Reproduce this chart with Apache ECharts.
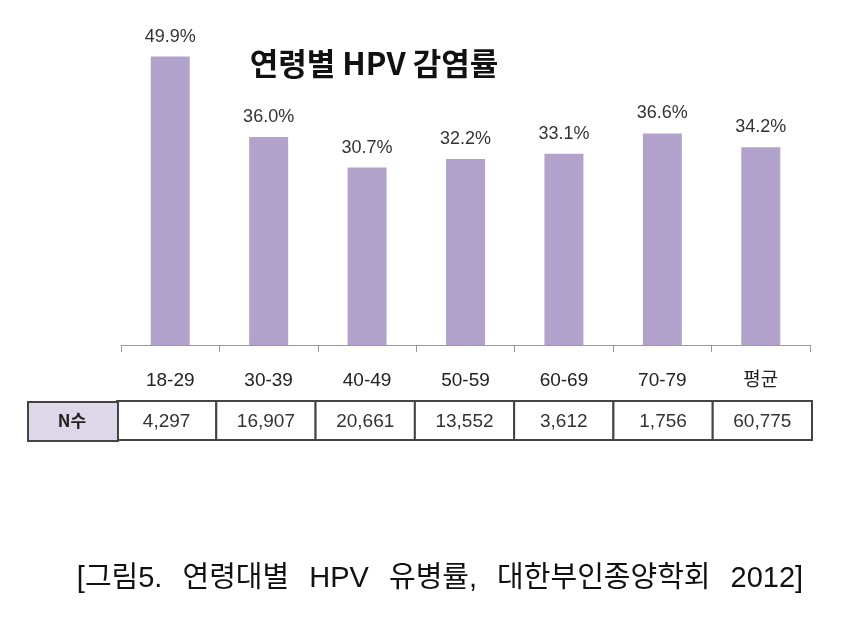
<!DOCTYPE html>
<html><head><meta charset="utf-8">
<script src="https://cdn.jsdelivr.net/npm/echarts@6/dist/echarts.min.js"></script>
<style>html,body{margin:0;padding:0;background:#fff}#c{width:850px;height:630px}</style>
</head><body><div id="c"></div>
<script>
const categories = ['18-29','30-39','40-49','50-59','60-69','70-79','평균'];
const rates = [49.9, 36.0, 30.7, 32.2, 33.1, 36.6, 34.2];
const counts = ['4,297','16,907','20,661','13,552','3,612','1,756','60,775'];
const tableHeader = 'N수';
const chartTitle = '연령별 HPV 감염률';
const caption = '[그림5. 연령대별 HPV 유병률, 대한부인종양학회 2012]';

const FONT = '"Liberation Sans", "Noto Sans CJK KR", sans-serif';
const captionRich = caption.split(' ').map(w => '{w|' + w + '}').join(' ');
const chart = echarts.init(document.getElementById('c'));
chart.setOption({
  animation: false,
  backgroundColor: '#fff',
  title: [
    {text: chartTitle, left: 369, top: 43, textAlign: 'center',
     textStyle: {fontFamily: '"Noto Sans CJK KR", sans-serif', fontSize: 31, fontWeight: 'bold', color: '#111'}},
    {text: captionRich, left: 435, top: 559, textAlign: 'center',
     textStyle: {fontFamily: FONT, fontSize: 29, fontWeight: 'normal', color: '#111',
       rich: {w: {fontFamily: FONT, fontSize: 29, fontWeight: 'normal', color: '#111', padding: [0, 6]}}}}
  ],
  grid: [
    {left: 121, right: 40, top: 56, bottom: 285},
    {left: 117, right: 38, top: 401, height: 39}
  ],
  xAxis: [
    {gridIndex: 0, type: 'category', data: categories,
     axisLine: {lineStyle: {color: '#999', width: 1}},
     axisTick: {show: true, length: 7, lineStyle: {color: '#999'}},
     axisLabel: {margin: 26, fontSize: 19, color: '#222', fontFamily: FONT}},
    {gridIndex: 1, type: 'category', data: categories, show: false}
  ],
  yAxis: [
    {gridIndex: 0, type: 'value', min: 0, max: 50, show: false, splitLine: {show: false}},
    {gridIndex: 1, type: 'value', min: 0, max: 1, show: false, splitLine: {show: false}}
  ],
  graphic: [
    {type: 'rect', left: 27, top: 401, shape: {width: 90, height: 39},
     style: {fill: '#dcd8ea', stroke: '#444', lineWidth: 2}, z: 10},
    {type: 'text', x: 72, y: 421, z: 11,
     style: {text: tableHeader, fontSize: 17, fontWeight: 'bold', fontFamily: '"Noto Sans CJK KR", sans-serif',
             fill: '#222', align: 'center', verticalAlign: 'middle'}}
  ],
  series: [
    {type: 'bar', xAxisIndex: 0, yAxisIndex: 0, data: rates, barWidth: 39,
     itemStyle: {color: '#b1a3cb'},
     label: {show: true, position: 'top', distance: 11, fontSize: 18, color: '#333', fontFamily: FONT,
             formatter: p => p.value.toFixed(1) + '%'}},
    {type: 'custom', xAxisIndex: 1, yAxisIndex: 1, data: counts.map((c, i) => [i, c]),
     renderItem: function (params, api) {
       const x = api.coord([api.value(0), 0]);
       const top = api.coord([api.value(0), 1]);
       const w = api.size([1, 0])[0];
       const h = x[1] - top[1];
       return {type: 'group', children: [
         {type: 'rect', shape: {x: x[0] - w / 2, y: top[1], width: w, height: h},
          style: {fill: '#fff', stroke: '#444', lineWidth: 2}},
         {type: 'text', style: {text: counts[params.dataIndex], x: x[0], y: top[1] + h / 2 + 1,
          align: 'center', verticalAlign: 'middle', fontSize: 19, fill: '#333', fontFamily: FONT}}
       ]};
     }}
  ]
});
</script></body></html>
